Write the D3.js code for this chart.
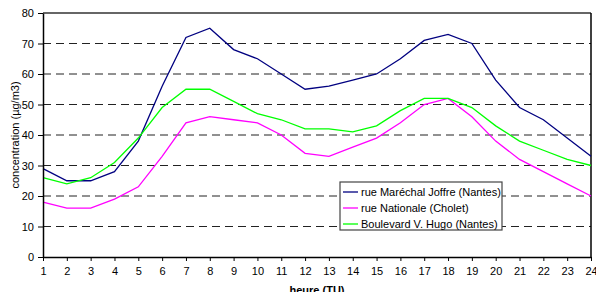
<!DOCTYPE html>
<html>
<head>
<meta charset="utf-8">
<script src="https://cdn.jsdelivr.net/npm/d3@7"></script>
<style>
  body { margin: 0; background: #fff; }
  svg { display: block; font-family: "Liberation Sans", Arial, sans-serif; }
</style>
</head>
<body>
<div class="chart"></div>
<script>
// hours 1..24
const hours = d3.range(1, 25);
const yTicks = [0, 10, 20, 30, 40, 50, 60, 70, 80];

const seriesNames = ["rue Maréchal Joffre (Nantes)", "rue Nationale (Cholet)", "Boulevard V. Hugo (Nantes)"];
const joffre = [29, 25, 25, 28, 38, 56, 72, 75, 68, 65, 60, 55, 56, 58, 60, 65, 71, 73, 70, 58, 49, 45, 39, 33];
const nationale = [18, 16, 16, 19, 23, 33, 44, 46, 45, 44, 40, 34, 33, 36, 39, 44, 50, 52, 46, 38, 32, 28, 24, 20];
const hugo = [26, 24, 26, 31, 39, 49, 55, 55, 51, 47, 45, 42, 42, 41, 43, 48, 52, 52, 49, 43, 38, 35, 32, 30];
const colors = ["#000080", "#ff00ff", "#00ff00"];

const margin = {top: 13, right: 5, bottom: 35, left: 43};
const W = 596, H = 292;
const width = W - margin.left - margin.right;
const height = H - margin.top - margin.bottom;

const svg = d3.select(".chart").append("svg")
    .attr("width", W)
    .attr("height", H)
  .append("g")
    .attr("transform", "translate(" + margin.left + "," + margin.top + ")");

const x = d3.scaleLinear().domain([1, 24]).range([0, width]);
const y = d3.scaleLinear().domain([0, 80]).range([height, 0]);

// dashed grid lines
svg.append("g")
    .selectAll("line")
    .data(yTicks.filter(d => d > 0 && d < 80))
    .enter().append("line")
    .attr("x1", 0).attr("x2", width)
    .attr("y1", d => y(d)).attr("y2", d => y(d))
    .attr("stroke", "#222")
    .attr("stroke-dasharray", "8,5");

// top + right border
svg.append("line")
    .attr("x1", 0).attr("x2", width)
    .attr("y1", y(80)).attr("y2", y(80))
    .attr("stroke", "#333").attr("stroke-width", 1.5);
svg.append("line")
    .attr("x1", width).attr("x2", width)
    .attr("y1", 0).attr("y2", height)
    .attr("stroke", "#000").attr("stroke-width", 1.5);

// lines
const line = d3.line()
    .x((d, i) => x(hours[i]))
    .y(d => y(d));

[joffre, nationale, hugo].forEach(function(vals, k) {
    svg.append("path")
        .datum(vals)
        .attr("fill", "none")
        .attr("stroke", colors[k])
        .attr("stroke-width", 1.3)
        .attr("d", line);
});

// axes
const xAxis = svg.append("g")
    .attr("transform", "translate(0," + height + ")")
    .call(d3.axisBottom(x).tickValues(hours).tickFormat(d3.format("d")).tickSize(4).tickSizeOuter(0).tickPadding(6));
const yAxis = svg.append("g")
    .call(d3.axisLeft(y).tickValues(yTicks).tickSize(5).tickSizeOuter(0).tickPadding(4));

[xAxis, yAxis].forEach(function(a) {
    a.select(".domain").attr("stroke", "#000").attr("stroke-width", 1.5);
    a.selectAll(".tick line").attr("stroke", "#000");
    a.selectAll("text")
        .style("font-family", "Liberation Sans, Arial, sans-serif")
        .style("font-size", "11px")
        .attr("fill", "#000");
});

// axis titles
svg.append("text")
    .attr("x", width / 2)
    .attr("y", height + 37)
    .attr("text-anchor", "middle")
    .style("font-size", "11px")
    .style("font-weight", "bold")
    .text("heure (TU)");

svg.append("text")
    .attr("transform", "translate(" + (15 - margin.left + 4) + "," + (height / 2) + ") rotate(-90)")
    .attr("text-anchor", "middle")
    .style("font-size", "11px")
    .text("concentration (µg/m3)");

// legend
const lg = svg.append("g")
    .attr("transform", "translate(" + (340 - margin.left) + "," + (182 - margin.top) + ")");
lg.append("rect")
    .attr("width", 162).attr("height", 48)
    .attr("fill", "#fff")
    .attr("stroke", "#444")
    .attr("stroke-width", 1.2);
seriesNames.forEach(function(name, i) {
    const yy = 10 + i * 16;
    lg.append("line")
        .attr("x1", 3).attr("x2", 18)
        .attr("y1", yy).attr("y2", yy)
        .attr("stroke", colors[i])
        .attr("stroke-width", 1.3);
    lg.append("text")
        .attr("x", 21)
        .attr("y", yy + 4)
        .style("font-size", "11px")
        .text(name);
});
</script>
</body>
</html>
